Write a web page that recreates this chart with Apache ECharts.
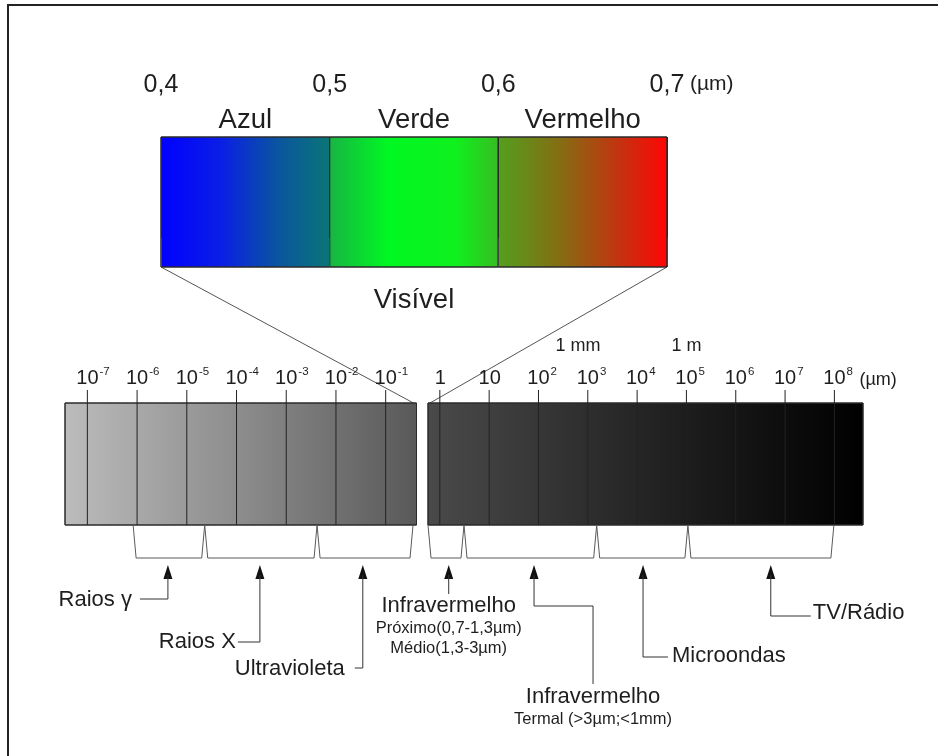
<!DOCTYPE html>
<html><head><meta charset="utf-8">
<script src="https://cdn.jsdelivr.net/npm/echarts@6/dist/echarts.min.js"></script>
<style>html,body{margin:0;padding:0;background:#fff}#c{width:938px;height:756px}</style>
</head><body><div id="c"></div>
<script>
// ---- Visible band (µm) ----
const visibleTicks = [0.4, 0.5, 0.6, 0.7];
const visibleBandNames = ['Azul', 'Verde', 'Vermelho'];
const visibleBandFrom = [0.4, 0.5, 0.6];
const visibleBandTo = [0.5, 0.6, 0.7];
const visibleTitle = 'Visível';
const unitLabel = '(µm)';

// ---- Full spectrum: log10 of wavelength in µm ----
const shortExponents = [-7, -6, -5, -4, -3, -2, -1];
const longExponents = [0, 1, 2, 3, 4, 5, 6, 7, 8];
const shortBarSpan = [-7.45, -0.38];
const longBarSpan = [-0.24, 8.58];
const unitNotes = ['1 mm', '1 m'];
const unitNotePos = [2.8, 5.0];

// ---- Spectral regions (log10 µm) ----
const regionNames = ['Raios γ', 'Raios X', 'Ultravioleta', 'Infravermelho', 'Infravermelho', 'Microondas', 'TV/Rádio'];
const regionSubtitles = [[], [], [], ['Próximo(0,7-1,3µm)', 'Médio(1,3-3µm)'], ['Termal (>3µm;<1mm)'], [], []];
const regionFrom = [-6.08, -4.64, -2.38, -0.24, 0.49, 3.18, 5.03];
const regionTo = [-4.64, -2.38, -0.45, 0.49, 3.18, 5.03, 7.99];
const regionArrow = [-5.38, -3.53, -1.46, 0.18, 1.91, 4.12, 6.71];
const regionPart = [0, 0, 0, 1, 1, 1, 1];

const FONT = 'Liberation Sans, Arial, sans-serif';
const INK = '#1e1e1e';

// leader layouts (pixel offsets below the bar bottom / from the arrow x)
const leaderLayout = [
  {path: [[0, 74], [-28, 74]], label: {dx: -36, dy: 75, align: 'right'}},
  {path: [[0, 117], [-22, 117]], label: {dx: -24, dy: 117, align: 'right'}},
  {path: [[0, 143], [-8, 143]], label: {dx: -18, dy: 144, align: 'right'}},
  {path: [[0, 69]], label: {dx: 0, dy: 81, align: 'center'}},
  {path: [[0, 81], [59, 81], [59, 159]], label: {dx: 59, dy: 172, align: 'center'}},
  {path: [[0, 132], [25, 132]], label: {dx: 29, dy: 131, align: 'left'}},
  {path: [[0, 91], [40, 91]], label: {dx: 42, dy: 88, align: 'left'}}
];

const chart = echarts.init(document.getElementById('c'), null, {renderer: 'canvas'});

const visibleStops = [
  [[0, '#0000ff'], [0.35, '#0a1ee6'], [0.7, '#0a569e'], [1, '#0a7676']],
  [[0, '#18b444'], [0.35, '#00f822'], [0.75, '#10f01e'], [1, '#38bc22']],
  [[0, '#52a01e'], [0.4, '#8a6812'], [0.72, '#c43210'], [1, '#ff0505']]
];

function grad(stops) {
  return new echarts.graphic.LinearGradient(0, 0, 1, 0,
    stops.map(s => ({offset: s[0], color: s[1]})));
}

const TICK_FS = 20;
function expLabel(e) {
  if (e === 0) return '1';
  if (e === 1) return '10';
  return '10{sup|' + e + '}';
}

const bandData = visibleBandFrom.map((f, i) => [f, visibleBandTo[i], i]);
const regionData = regionFrom.map((f, i) => [f, regionTo[i], regionArrow[i], i]);

function bandRender(params, api) {
  const i = api.value(2);
  const p0 = api.coord([api.value(0), 1]);
  const p1 = api.coord([api.value(1), 0]);
  return {
    type: 'group',
    children: [
      {type: 'rect', shape: {x: p0[0], y: p0[1], width: p1[0] - p0[0], height: p1[1] - p0[1]},
       style: {fill: grad(visibleStops[i]), stroke: '#2a2a2a', lineWidth: 1}},
      {type: 'text', x: (p0[0] + p1[0]) / 2, y: p0[1] - 17,
       style: {text: visibleBandNames[i], fontSize: 27.5, fontFamily: FONT, fill: INK,
               align: 'center', verticalAlign: 'middle'}}
    ]
  };
}

function barRender(stops) {
  return function (params, api) {
    const p0 = api.coord([api.value(0), 1]);
    const p1 = api.coord([api.value(1), 0]);
    return {type: 'rect', shape: {x: p0[0], y: p0[1], width: p1[0] - p0[0], height: p1[1] - p0[1]},
      style: {fill: grad(stops), stroke: '#2a2a2a', lineWidth: 1}};
  };
}

function tickRender(params, api) {
  const e = api.value(0);
  const top = api.coord([e, 1]);
  const bot = api.coord([e, 0]);
  const hasSup = e !== 0 && e !== 1;
  return {
    type: 'group',
    children: [
      {type: 'line', shape: {x1: top[0], y1: top[1] - 13, x2: bot[0], y2: bot[1]},
       style: {stroke: '#222', lineWidth: 1}},
      {type: 'text', x: hasSup ? top[0] - TICK_FS * 0.556 : top[0] + 0.5, y: top[1] - 13,
       style: {text: expLabel(e), fontSize: TICK_FS, fontFamily: FONT, fill: INK,
               align: hasSup ? 'left' : 'center', verticalAlign: 'bottom', lineHeight: 24,
               rich: {sup: {fontSize: 11.5, fontFamily: FONT, fill: INK, verticalAlign: 'top', lineHeight: 14, padding: [0, 0, 0, 1]}}}}
    ]
  };
}

function regionRender(params, api) {
  const i = api.value(3);
  const a = api.coord([api.value(0), 0]);
  const b = api.coord([api.value(1), 0]);
  const c = api.coord([api.value(2), 0]);
  const y0 = a[1];
  const ax = c[0];
  const L = leaderLayout[i];
  const kids = [];
  kids.push({type: 'polyline', shape: {points: [[a[0], y0], [a[0] + 3, y0 + 33], [b[0] - 3, y0 + 33], [b[0], y0]]},
    style: {stroke: '#5a5a5a', lineWidth: 1, fill: null}});
  kids.push({type: 'polygon', shape: {points: [[ax, y0 + 40], [ax - 4.5, y0 + 54], [ax + 4.5, y0 + 54]]},
    style: {fill: '#111'}});
  const pts = [[ax, y0 + 50]].concat(L.path.map(p => [ax + p[0], y0 + p[1]]));
  kids.push({type: 'polyline', shape: {points: pts}, style: {stroke: '#333', lineWidth: 1, fill: null}});
  kids.push({type: 'text', x: ax + L.label.dx, y: y0 + L.label.dy,
    style: {text: regionNames[i], fontSize: 22, fontFamily: FONT, fill: INK, align: L.label.align, verticalAlign: 'middle'}});
  regionSubtitles[i].forEach((s, k) => {
    kids.push({type: 'text', x: ax + L.label.dx, y: y0 + L.label.dy + 22 + k * 20,
      style: {text: s, fontSize: 16.5, fontFamily: FONT, fill: INK, align: 'center', verticalAlign: 'middle'}});
  });
  return {type: 'group', children: kids};
}

const hiddenX = (g, span) => ({gridIndex: g, type: 'value', min: span[0], max: span[1], show: false});
const hiddenY = g => ({gridIndex: g, type: 'value', min: 0, max: 1, show: false});

chart.setOption({
  animation: false,
  backgroundColor: '#fff',
  grid: [
    {left: 161, width: 506, top: 137, height: 130},
    {left: 65, width: 351.5, top: 403, height: 122},
    {left: 428, width: 435, top: 403, height: 122}
  ],
  xAxis: [
    {gridIndex: 0, type: 'value', min: visibleTicks[0], max: visibleTicks[visibleTicks.length - 1], interval: 0.1,
     position: 'top', z: 5,
     axisLine: {show: false},
     axisTick: {show: true, length: 29, lineStyle: {color: '#444', width: 1}},
     axisLabel: {margin: 39, fontSize: 25, fontFamily: FONT, color: INK,
                 formatter: v => v.toFixed(1).replace('.', ',')},
     splitLine: {show: true, lineStyle: {color: '#2a2a2a', width: 1}}},
    hiddenX(1, shortBarSpan),
    hiddenX(2, longBarSpan)
  ],
  yAxis: [hiddenY(0), hiddenY(1), hiddenY(2)],
  series: [
    {type: 'custom', xAxisIndex: 0, yAxisIndex: 0, data: bandData, renderItem: bandRender, z: 2, silent: true},
    {type: 'custom', xAxisIndex: 1, yAxisIndex: 1, data: [shortBarSpan], z: 2, silent: true,
     renderItem: barRender([[0, '#bcbcbc'], [0.5, '#8c8c8c'], [1, '#595959']])},
    {type: 'custom', xAxisIndex: 2, yAxisIndex: 2, data: [longBarSpan], z: 2, silent: true,
     renderItem: barRender([[0, '#4a4a4a'], [0.5, '#242424'], [1, '#000000']])},
    {type: 'custom', xAxisIndex: 1, yAxisIndex: 1, data: shortExponents.map(e => [e]), renderItem: tickRender, z: 3, silent: true},
    {type: 'custom', xAxisIndex: 2, yAxisIndex: 2, data: longExponents.map(e => [e]), renderItem: tickRender, z: 3, silent: true},
    {type: 'custom', xAxisIndex: 1, yAxisIndex: 1, data: regionData.filter((d, i) => regionPart[i] === 0), renderItem: regionRender, z: 3, silent: true},
    {type: 'custom', xAxisIndex: 2, yAxisIndex: 2, data: regionData.filter((d, i) => regionPart[i] === 1), renderItem: regionRender, z: 3, silent: true}
  ]
});

// connecting lines and extra annotations, positioned through the axes
const px = (g, v) => chart.convertToPixel({gridIndex: g}, v);
const vA = px(0, [visibleTicks[0], 0]);
const vB = px(0, [visibleTicks[visibleTicks.length - 1], 0]);
const vTop = px(0, [visibleTicks[visibleTicks.length - 1], 1]);
const sR = px(1, [shortBarSpan[1], 1]);
const lL = px(2, [longBarSpan[0], 1]);
const l8 = px(2, [longExponents[longExponents.length - 1], 1]);
const graphics = [
  {type: 'rect', shape: {x: 8, y: 5, width: 960, height: 780}, style: {fill: null, stroke: '#222', lineWidth: 2}, z: 0},
  {type: 'line', shape: {x1: vA[0], y1: vA[1], x2: sR[0] - 3, y2: sR[1]}, style: {stroke: '#555', lineWidth: 1}, z: 1},
  {type: 'line', shape: {x1: vB[0], y1: vB[1], x2: lL[0] + 2, y2: lL[1]}, style: {stroke: '#555', lineWidth: 1}, z: 1},
  {type: 'text', x: (vA[0] + vB[0]) / 2, y: vA[1] + 33, style: {text: visibleTitle, fontSize: 27.5, fontFamily: FONT, fill: INK, align: 'center', verticalAlign: 'middle'}, z: 5},
  {type: 'text', x: vTop[0] + 23, y: vTop[1] - 53, style: {text: unitLabel, fontSize: 21, fontFamily: FONT, fill: INK, align: 'left', verticalAlign: 'middle'}, z: 5},
  {type: 'text', x: l8[0] + 25, y: l8[1] - 23, style: {text: unitLabel, fontSize: 18, fontFamily: FONT, fill: INK, align: 'left', verticalAlign: 'middle'}, z: 5}
];
unitNotes.forEach((t, i) => {
  const p = px(2, [unitNotePos[i], 1]);
  graphics.push({type: 'text', x: p[0], y: p[1] - 57, style: {text: t, fontSize: 18, fontFamily: FONT, fill: INK, align: 'center', verticalAlign: 'middle'}, z: 5});
});
chart.setOption({graphic: graphics});
</script>
</body></html>
